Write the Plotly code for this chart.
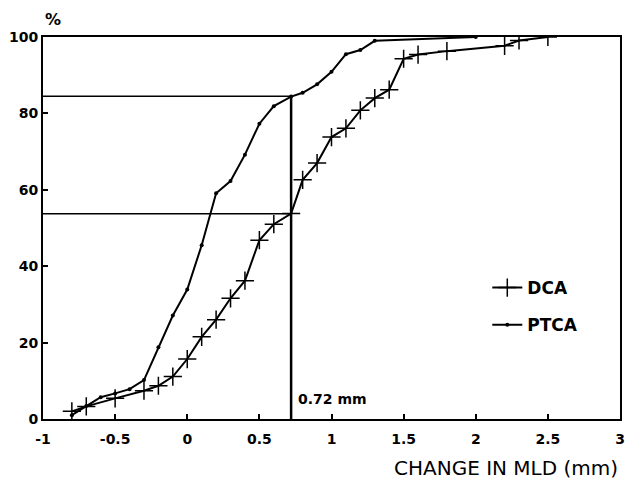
import plotly.graph_objects as go

# Cumulative distribution of change in minimal lumen diameter (MLD)
dca_change = [-0.8, -0.7, -0.5, -0.3, -0.2, -0.1, 0.0, 0.1, 0.2, 0.3, 0.4, 0.5, 0.6,
              0.72, 0.8, 0.9, 1.0, 1.1, 1.2, 1.3, 1.4, 1.5, 1.6, 1.8, 2.2, 2.3, 2.5]
dca_pct = [2.0, 3.3, 5.4, 7.4, 8.7, 11.1, 15.7, 21.5, 26.0, 31.6, 36.2, 46.8, 51.0,
           53.8, 62.6, 67.0, 73.8, 76.1, 80.8, 84.0, 86.2, 94.3, 95.4, 96.3, 97.7, 99.1, 100.0]

ptca_change = [-0.8, -0.7, -0.6, -0.5, -0.4, -0.3, -0.2, -0.1, 0.0, 0.1, 0.2, 0.3, 0.4,
               0.5, 0.6, 0.72, 0.8, 0.9, 1.0, 1.1, 1.2, 1.3, 2.0]
ptca_pct = [1.0, 3.4, 5.7, 6.7, 7.8, 10.2, 18.8, 27.1, 33.9, 45.5, 59.1, 62.3, 69.2,
            77.3, 81.9, 84.4, 85.4, 87.6, 90.9, 95.5, 96.6, 99.0, 100.0]

# Reference threshold and the percentages reached at it
threshold = 0.72
dca_at_threshold = 53.7
ptca_at_threshold = 84.5

x_ticks = [-1, -0.5, 0, 0.5, 1, 1.5, 2, 2.5, 3]
x_tick_text = ["-1", "-0.5", "0", "0.5", "1", "1.5", "2", "2.5", "3"]
y_ticks = [0, 20, 40, 60, 80, 100]

font_family = "DejaVu Sans, Arial, sans-serif"

fig = go.Figure()

fig.add_trace(go.Scatter(
    x=dca_change, y=dca_pct, name="DCA", mode="lines+markers",
    line=dict(color="black", width=2),
    marker=dict(symbol="cross-thin", size=13, line=dict(color="black", width=1.5)),
    legendgroup="dca",
))
fig.add_trace(go.Scatter(
    x=ptca_change, y=ptca_pct, name="PTCA", mode="lines+markers",
    line=dict(color="black", width=2),
    marker=dict(symbol="circle", size=4, color="black"),
    legendgroup="ptca",
))

# Threshold guide lines
for level in (ptca_at_threshold, dca_at_threshold):
    fig.add_shape(type="line", xref="x", yref="y", x0=-1, x1=threshold, y0=level, y1=level,
                  line=dict(color="black", width=1.5))
fig.add_shape(type="line", xref="x", yref="y", x0=threshold, x1=threshold, y0=0,
              y1=ptca_at_threshold, line=dict(color="black", width=2.5))

fig.add_annotation(x=threshold, y=0, xref="x", yref="y", text=f"{threshold} mm",
                   showarrow=False, xanchor="left", yanchor="middle", xshift=5, yshift=20,
                   font=dict(family=font_family, size=14, color="black", weight="bold"))

fig.add_annotation(x=0, y=1, xref="paper", yref="paper", text="%", showarrow=False,
                   xanchor="left", yanchor="middle", xshift=0, yshift=18,
                   font=dict(family=font_family, size=16, color="black", weight="bold"))
fig.add_annotation(x=1, y=0, xref="paper", yref="paper", text="CHANGE IN MLD (mm)",
                   showarrow=False, xanchor="right", yanchor="middle", yshift=-49,
                   font=dict(family=font_family, size=20, color="black"))

axis_common = dict(
    showgrid=False, zeroline=False, showline=True, linecolor="black", linewidth=2,
    mirror=True, ticks="inside", ticklen=5, tickcolor="black", tickwidth=1.5,
    tickfont=dict(family=font_family, size=14, color="black", weight="bold"),
)

fig.update_xaxes(range=[-1, 3], tickvals=x_ticks, ticktext=x_tick_text,
                 ticklabelstandoff=6, **axis_common)
fig.update_yaxes(range=[0, 100], tickvals=y_ticks, **axis_common)

fig.update_layout(
    width=632, height=481,
    margin=dict(l=43, r=7, t=37, b=62),
    plot_bgcolor="white", paper_bgcolor="white",
    showlegend=True,
    legend=dict(x=0.77, y=0.39, xanchor="left", yanchor="top",
                bgcolor="rgba(0,0,0,0)", traceorder="grouped", tracegroupgap=12,
                font=dict(family=font_family, size=17, color="black", weight="bold")),
)

fig.write_html("out.html")
